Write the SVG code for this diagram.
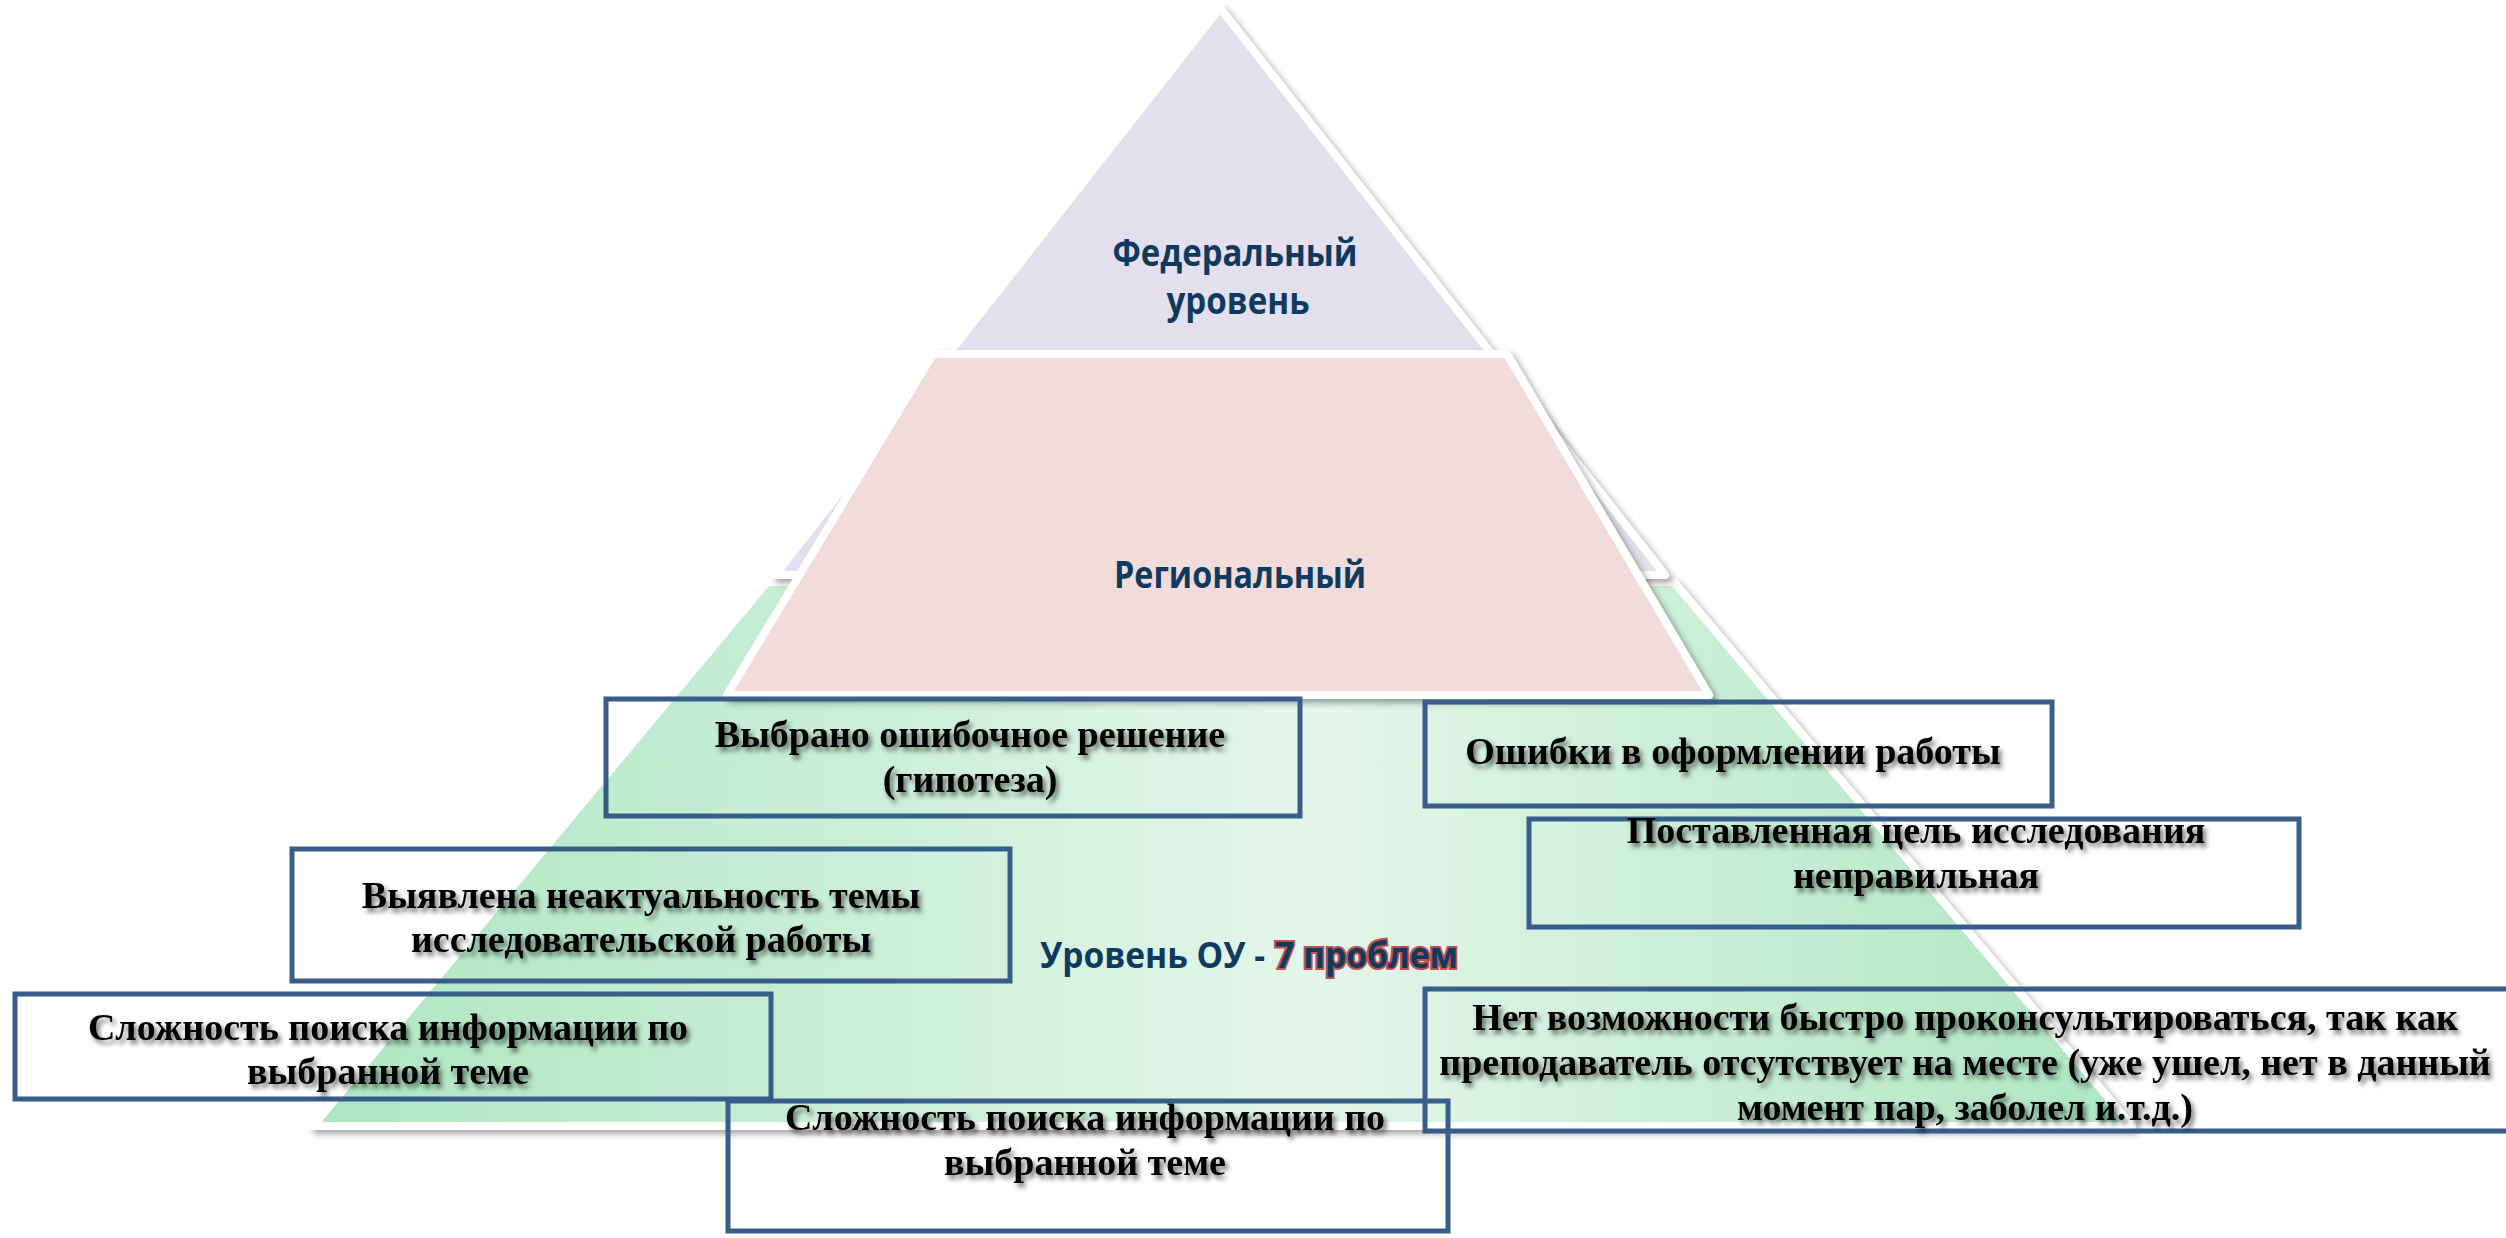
<svg xmlns="http://www.w3.org/2000/svg" width="2506" height="1238" viewBox="0 0 2506 1238">
<defs>
<linearGradient id="gGreen" gradientUnits="userSpaceOnUse" x1="315" y1="0" x2="2130" y2="0">
<stop offset="0" stop-color="#aee6c2"/>
<stop offset="0.55" stop-color="#e3f6ea"/>
<stop offset="1" stop-color="#aee6c2"/>
</linearGradient>
<filter id="shShape" x="-5%" y="-5%" width="110%" height="110%">
<feDropShadow dx="4" dy="4" stdDeviation="3" flood-color="#000" flood-opacity="0.35"/>
</filter>
<filter id="shText" x="-5%" y="-30%" width="110%" height="160%">
<feDropShadow dx="3" dy="4" stdDeviation="2.5" flood-color="#000" flood-opacity="0.55"/>
</filter>
<style>
.lvl{stroke:#fff;stroke-width:8;stroke-linejoin:round;filter:url(#shShape)}
.box{fill:none;stroke:#385d8a;stroke-width:5}
.bt{font-family:"Liberation Serif","Times New Roman",serif;font-weight:bold;font-size:38px;fill:#000;text-anchor:middle}
.lab{font-family:"Open Sans","Noto Sans",sans-serif;font-weight:bold;fill:#0f3a60}
</style>
</defs>
<rect width="2506" height="1238" fill="#fff"/>
<g id="pyramid">
<g id="level-ou"><path class="lvl" d="M767,582 L1674,582 L2132,1126 L313,1126 Z" fill="url(#gGreen)"/></g>
<g id="level-federal"><path class="lvl" d="M1220,8 L1665,575 L775,575 Z" fill="#e4dfec"/></g>
<g id="level-regional"><path class="lvl" d="M933,354 L1507,354 L1709,695 L727,695 Z" fill="#f2dcdb"/></g>
<text class="lab" x="1235" y="266" font-size="38" text-anchor="middle" textLength="245" lengthAdjust="spacingAndGlyphs">Федеральный</text>
<text class="lab" x="1238" y="314" font-size="38" text-anchor="middle" textLength="143" lengthAdjust="spacingAndGlyphs">уровень</text>
<text class="lab" x="1240" y="588" font-size="38" text-anchor="middle" textLength="252" lengthAdjust="spacingAndGlyphs">Региональный</text>
<text class="lab" x="1040" y="968" font-size="35" textLength="225" lengthAdjust="spacingAndGlyphs">Уровень ОУ -</text>
<text class="lab" x="1275" y="968" font-size="35" stroke="#c0504d" stroke-width="4" paint-order="stroke" fill="#1f3a60" textLength="183" lengthAdjust="spacingAndGlyphs">7 проблем</text>
</g>
<g id="connectors"/>
<g id="box1"><rect class="box" x="606" y="699" width="694" height="117"/>
<g filter="url(#shText)"><text class="bt" x="970" y="747">Выбрано ошибочное решение</text><text class="bt" x="970" y="792">(гипотеза)</text></g></g>
<g id="box2"><rect class="box" x="292" y="849" width="718" height="132"/>
<g filter="url(#shText)"><text class="bt" x="641" y="908">Выявлена неактуальность темы</text><text class="bt" x="641" y="952">исследовательской работы</text></g></g>
<g id="box3"><rect class="box" x="15" y="994" width="756" height="105"/>
<g filter="url(#shText)"><text class="bt" x="388" y="1040">Сложность поиска информации по</text><text class="bt" x="388" y="1084">выбранной теме</text></g></g>
<g id="box4"><rect class="box" x="1425" y="702" width="627" height="104"/>
<g filter="url(#shText)"><text class="bt" x="1733" y="764">Ошибки в оформлении работы</text></g></g>
<g id="box5"><rect class="box" x="1529" y="819" width="770" height="108"/>
<g filter="url(#shText)"><text class="bt" x="1916" y="843">Поставленная цель исследования</text><text class="bt" x="1916" y="888">неправильная</text></g></g>
<g id="box6"><rect class="box" x="1425" y="989" width="1100" height="142"/>
<g filter="url(#shText)"><text class="bt" x="1965" y="1030">Нет возможности быстро проконсультироваться, так как</text><text class="bt" x="1965" y="1075">преподаватель отсутствует на месте (уже ушел, нет в данный</text><text class="bt" x="1965" y="1120">момент пар, заболел и.т.д.)</text></g></g>
<g id="box7"><rect class="box" x="728" y="1101" width="720" height="130"/>
<g filter="url(#shText)"><text class="bt" x="1085" y="1130">Сложность поиска информации по</text><text class="bt" x="1085" y="1175">выбранной теме</text></g></g>
</svg>
